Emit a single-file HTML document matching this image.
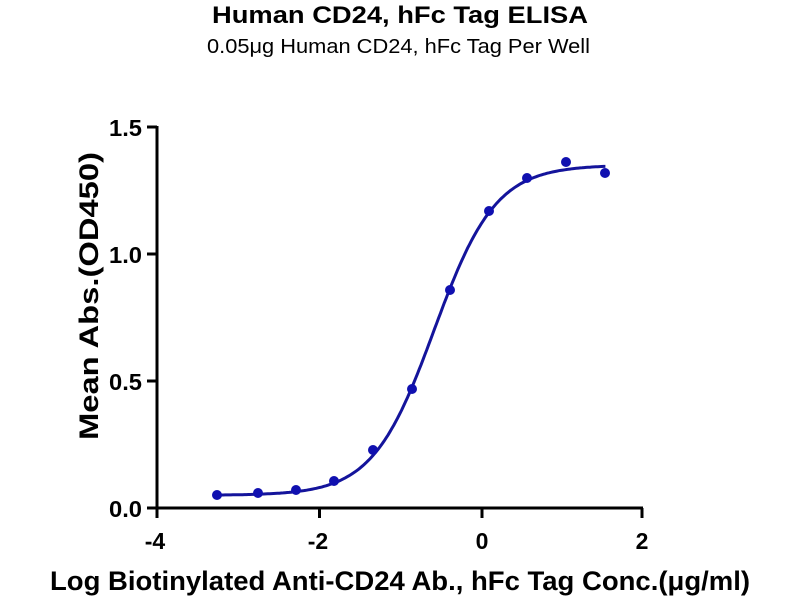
<!DOCTYPE html>
<html><head><meta charset="utf-8"><style>
body{margin:0;background:#fff;width:800px;height:600px;overflow:hidden;font-family:"Liberation Sans",sans-serif}
</style></head><body>
<svg width="800" height="600" xmlns="http://www.w3.org/2000/svg" font-family="Liberation Sans, sans-serif">
<text x="212" y="23" font-size="24" font-weight="bold" textLength="376" lengthAdjust="spacingAndGlyphs">Human CD24, hFc Tag ELISA</text>
<text x="207" y="53" font-size="20" textLength="383" lengthAdjust="spacingAndGlyphs">0.05μg Human CD24, hFc Tag Per Well</text>
<g stroke="#000" stroke-width="3" fill="none">
<line x1="157" y1="126" x2="157" y2="509"/>
<line x1="155.5" y1="508" x2="643" y2="508"/>
<line x1="147" y1="127" x2="157" y2="127"/>
<line x1="147" y1="254" x2="157" y2="254"/>
<line x1="147" y1="381" x2="157" y2="381"/>
<line x1="147" y1="508" x2="157" y2="508"/>
<line x1="157" y1="508" x2="157" y2="518"/>
<line x1="319.5" y1="508" x2="319.5" y2="518"/>
<line x1="482" y1="508" x2="482" y2="518"/>
<line x1="642" y1="508" x2="642" y2="518"/>
</g>
<g font-size="23" font-weight="bold">
<text x="109" y="136" textLength="33" lengthAdjust="spacingAndGlyphs">1.5</text>
<text x="109" y="263" textLength="33" lengthAdjust="spacingAndGlyphs">1.0</text>
<text x="109" y="390" textLength="33" lengthAdjust="spacingAndGlyphs">0.5</text>
<text x="109" y="517" textLength="33" lengthAdjust="spacingAndGlyphs">0.0</text>
</g>
<g font-size="23" font-weight="bold" text-anchor="middle">
<text x="155" y="549">-4</text>
<text x="318" y="549">-2</text>
<text x="482" y="549">0</text>
<text x="642" y="549">2</text>
</g>
<text transform="translate(98,440) rotate(-90)" font-size="27" font-weight="bold" textLength="288" lengthAdjust="spacingAndGlyphs">Mean Abs.(OD450)</text>
<text x="50" y="590" font-size="27" font-weight="bold" textLength="700" lengthAdjust="spacingAndGlyphs">Log Biotinylated Anti-CD24 Ab., hFc Tag Conc.(μg/ml)</text>
<path id="curve" fill="none" stroke="#14149b" stroke-width="3"/>
<g fill="#1010b0">
<circle cx="217" cy="495" r="5"/>
<circle cx="258" cy="493" r="5"/>
<circle cx="296" cy="490" r="5"/>
<circle cx="334" cy="481" r="5"/>
<circle cx="373" cy="450" r="5"/>
<circle cx="412" cy="389" r="5"/>
<circle cx="450" cy="290" r="5"/>
<circle cx="489" cy="211" r="5"/>
<circle cx="527" cy="178" r="5"/>
<circle cx="566" cy="162" r="5"/>
<circle cx="605" cy="173" r="5"/>
</g>
</svg>
<script>
var d="";
for(var i=0;i<=200;i++){
 var x=-3.26+(1.52+3.26)*i/200;
 var y=0.05+(1.30)/(1+Math.exp(-2.64*(x+0.59)));
 var px=482+81.2*x, py=508-254*y;
 d+=(i?"L":"M")+px.toFixed(1)+" "+py.toFixed(1);
}
document.getElementById("curve").setAttribute("d",d);
</script>
</body></html>
